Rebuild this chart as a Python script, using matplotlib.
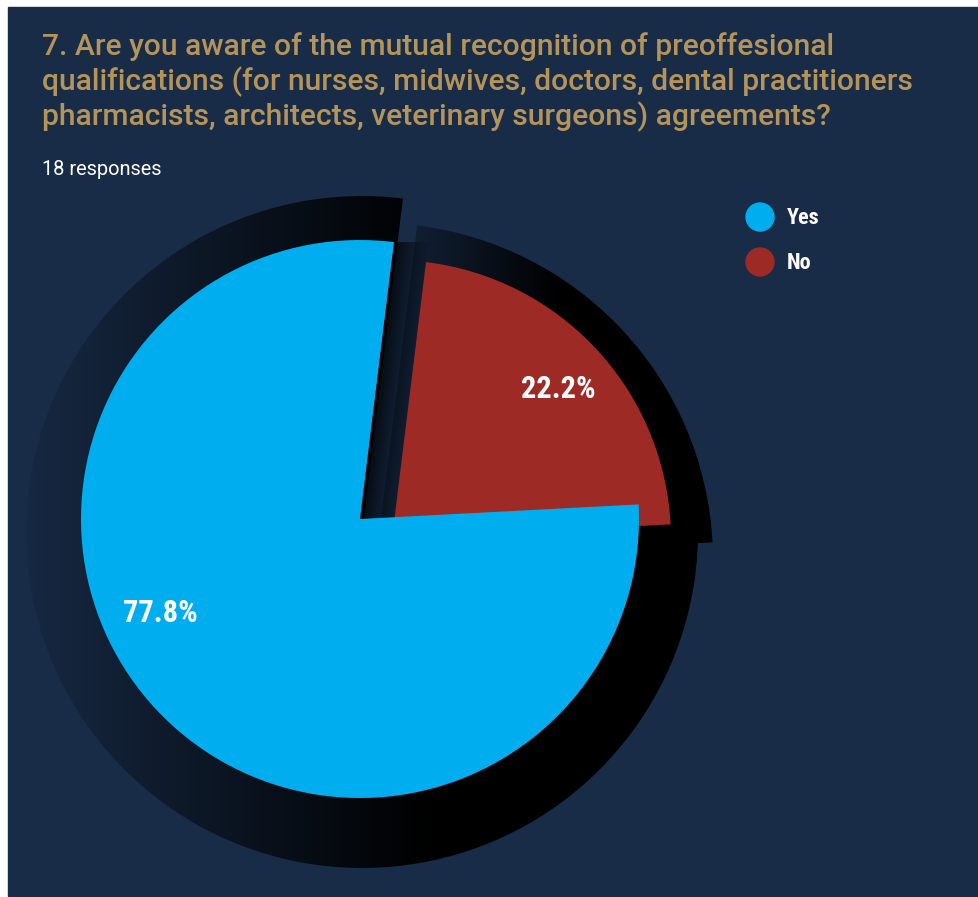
import numpy as np
import matplotlib
matplotlib.use('Agg')
import matplotlib.pyplot as plt
from matplotlib.patches import Wedge, Circle, Rectangle, Polygon

# data
labels = ['Yes', 'No']
counts = [14, 4]
percents = [77.8, 22.2]
colors = ['#00aeef', '#9e2a26']
title_lines = ['7. Are you aware of the mutual recognition of preoffesional',
               'qualifications (for nurses, midwives, doctors, dental practitioners',
               'pharmacists, architects, veterinary surgeons) agreements?']
subtitle = '18 responses'

BG = '#182c48'
GOLD = '#b5945a'
NARROW = ['Roboto Condensed', 'Liberation Sans Narrow', 'DejaVu Sans']
SANS = ['Roboto', 'DejaVu Sans']

W, H = 979, 897
fig = plt.figure(figsize=(W / 100, H / 100), dpi=100)
fig.patch.set_facecolor('white')
ax = fig.add_axes([0, 0, 1, 1])
ax.set_xlim(0, W)
ax.set_ylim(H, 0)
ax.axis('off')
ax.add_patch(Rectangle((8, 7), W - 8, H - 8, color=BG, zorder=0))


def shade(patch, x0, x1, a0, z):
	"""black shadow with a left-to-right alpha ramp, clipped to patch"""
	patch.set_facecolor('none')
	patch.set_edgecolor('none')
	ax.add_patch(patch)
	xs = np.arange(W) + 0.5
	a = a0 + (1 - a0) * np.clip((xs - x0) / (x1 - x0), 0, 1)
	img = np.zeros((1, W, 4))
	img[0, :, 3] = a
	im = ax.imshow(img, extent=(0, W, H, 0), aspect='auto', zorder=z, interpolation='bilinear')
	im.set_clip_path(patch)


# slice angles, clockwise from 12 o'clock (No slice starts a bit past the top)
frac = np.array(counts) / sum(counts)
start = 7.0
no_span = 360 * frac[1]
phi_no = (start, start + no_span)
phi_yes = (start + no_span, start + 360)
th = lambda p: p - 90  # screen-clockwise angle -> wedge angle on inverted y axis

yes_c, yes_r = (360, 519), 279
no_c, no_r = (392, 539), 279
yes_sh_c, yes_sh_r = (362, 532), 336
no_sh_c, no_sh_r = (376, 560), 337

# shadows
shade(Wedge(yes_sh_c, yes_sh_r, th(phi_yes[0]), th(phi_yes[1])), 26, 430, 0.08, 1)
shade(Wedge(no_sh_c, no_sh_r, th(phi_no[0]), th(phi_no[1])), 417, 560, 0.3, 2)

# shadow cast by the Yes slice edge into the gap
t = np.radians(start)
top = (yes_c[0] + yes_r * np.sin(t), yes_c[1] - yes_r * np.cos(t))
gap = Polygon([yes_c, top, (top[0] + 40, top[1]), (yes_c[0] + 40, yes_c[1])],
              facecolor='none', edgecolor='none')
ax.add_patch(gap)
yy, xx = np.mgrid[0:H, 0:W] + 0.5
d = xx - (yes_c[0] + (yes_c[1] - yy) * np.tan(t))
cast = np.zeros((H, W, 4))
cast[..., 3] = np.clip(0.8 * (1 - d / 36), 0, 0.8)
im = ax.imshow(cast, extent=(0, W, H, 0), aspect='auto', zorder=3, interpolation='bilinear')
im.set_clip_path(gap)

# slices
ax.add_patch(Wedge(no_c, no_r, th(phi_no[0]), th(phi_no[1]), facecolor=colors[1], edgecolor='none', zorder=4))
ax.add_patch(Wedge(yes_c, yes_r, th(phi_yes[0]), th(phi_yes[1]), facecolor=colors[0], edgecolor='none', zorder=5))

# percent labels
ax.text(160, 613, '{:.1f}%'.format(percents[0]), color='white', fontsize=22, fontweight='bold',
        family=NARROW, ha='center', va='center', zorder=6)
ax.text(558, 389, '{:.1f}%'.format(percents[1]), color='white', fontsize=22, fontweight='bold',
        family=NARROW, ha='center', va='center', zorder=6)

# legend
for i, (lab, col) in enumerate(zip(labels, colors)):
	y = 217 + i * 45
	ax.add_patch(Circle((760, y), 14, color=col, zorder=6))
	ax.text(787, y + 1, lab, color='white', fontsize=16, fontweight='bold', family=NARROW,
	        ha='left', va='center', zorder=6)

# title
for i, line in enumerate(title_lines):
	ax.text(42, 55 + i * 35, line, color=GOLD, fontsize=21.6, fontweight='medium', family=SANS,
	        ha='left', va='baseline')
ax.text(42, 175, subtitle, color='white', fontsize=14.4, family=SANS, ha='left', va='baseline')

fig.savefig('out.png', dpi=100, facecolor=fig.get_facecolor())
